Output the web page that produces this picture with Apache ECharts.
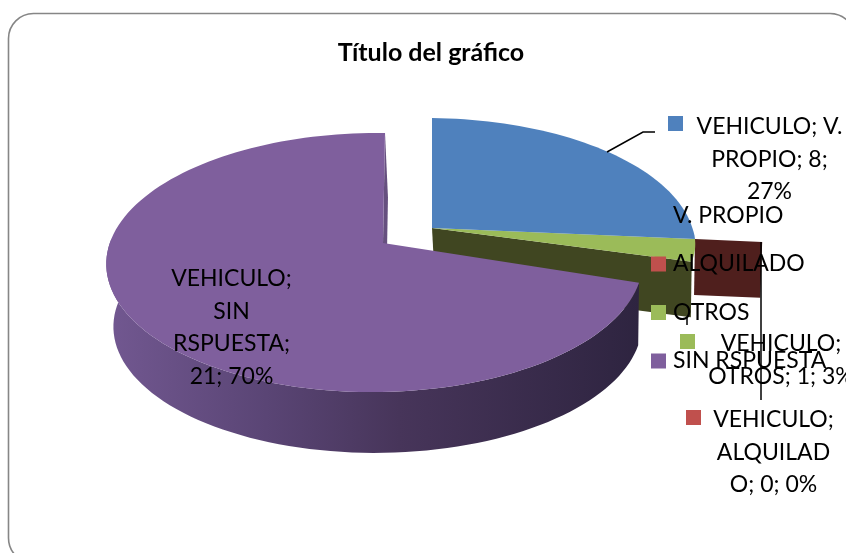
<!DOCTYPE html>
<html><head><meta charset="utf-8">
<style>html,body{margin:0;padding:0;background:#fff}#c{width:846px;height:553px}</style>
<script src="https://cdn.jsdelivr.net/npm/echarts@6/dist/echarts.min.js"></script>
</head><body><div id="c"></div>
<script>
const categories = ['V. PROPIO', 'ALQUILADO', 'OTROS', 'SIN RSPUESTA'];
const values = [8, 0, 1, 21];
const colors = ['#4f81bd', '#c0504d', '#9bbb59', '#7f5f9d'];
const darkColors = ['#2f4d71', '#4f1f1d', '#404621', '#66507f'];
const labelLines = [
  'VEHICULO; V.\nPROPIO; 8;\n27%',
  'VEHICULO;\nALQUILAD\nO; 0; 0%',
  'VEHICULO;\nOTROS; 1; 3%',
  'VEHICULO;\nSIN\nRSPUESTA;\n21; 70%'
];

// layout of the tilted disc
const FONT = 'Lato, Carlito, sans-serif';
const FS = 23, LH = 32.6;
const view = { A: 265, B: 126.6, k: 0.1506, m: 0.03, dx: 3, sb: 0.985 };
const apex = [[432, 228], [432, 228], [432, 228], [383, 243]];
const widen = [1.012, 1.012, 1.012, 1];
const shear = [0, 0, 0, 2];
const frontSquash = [0.85, 0.85, 0.85, 1];
const depth = [56, 56, 56, 63];
const labelLayout = [
  { x: 769.5, y: 126.5, key: [668, 116] },
  { x: 773.5, y: 419.5, key: [686, 410] },
  { x: 781, y: 343.5, key: [680, 334] },
  { x: 231.5, y: 278.5, key: [145, 267] }
];

const total = values.reduce((a, b) => a + b, 0);
let acc = 0;
const spans = values.map(v => { const s = acc; acc += v; return [s / total * 360, acc / total * 360]; });

function pt(i, deg, r, lower) {
  const t = deg * Math.PI / 180, u = r * Math.sin(t), v = -r * Math.cos(t);
  const w = 1 - view.k * v + view.m * u;
  const s = lower ? view.sb : 1;
  const yy = view.B * v / w * (v > 0 ? frontSquash[i] : 1);
  return [apex[i][0] + (lower ? view.dx : 0) + s * (widen[i] * view.A * u / w - shear[i] * v),
          apex[i][1] + (lower ? depth[i] : 0) + s * yy];
}
function arc(i, a, b, r, lower) {
  const out = [], n = Math.max(1, Math.ceil(Math.abs(b - a) / 2));
  for (let j = 0; j <= n; j++) out.push(pt(i, a + (b - a) * j / n, r, lower));
  return out;
}
function poly(points, fill, z2) {
  return { type: 'polygon', z2, shape: { points }, style: { fill } };
}
function sideGradient() {
  return new echarts.graphic.LinearGradient(0, 0, 1, 0, [
    { offset: 0, color: '#725891' },
    { offset: 0.3, color: '#5a4575' },
    { offset: 0.55, color: '#47355a' },
    { offset: 1, color: '#2e2440' }
  ]);
}
function sliceItem(i) {
  const [a, b] = spans[i], kids = [];
  const c = apex[i], cLow = [c[0] + view.dx, c[1] + depth[i]];
  if (i === 1) {
    // the empty slice only shows its cut face, pulled out past the rim
    kids.push(poly([pt(0, a, 1), pt(0, a, 1.26), pt(0, a, 1.26, true), pt(0, a, 1, true)], darkColors[1], 1));
  } else if (i === 0) {
    kids.push(poly([c].concat(arc(i, a, b, 1)), colors[0], 6));
  } else if (i === 2) {
    kids.push(poly([c, pt(i, b, 1), pt(i, b, 1, true), cLow], darkColors[2], 4));
    kids.push(poly([c].concat(arc(i, a, b, 1)), colors[2], 7));
  } else {
    kids.push(poly([c, pt(i, b, 1), pt(i, b, 1, true), cLow], darkColors[3], 8));
    const front = arc(i, a, 272, 1).concat(arc(i, 272, a, 1, true));
    kids.push({ type: 'polygon', z2: 9, shape: { points: front }, style: { fill: sideGradient() } });
    kids.push(poly([c].concat(arc(i, a, b, 1)), colors[3], 10));
  }
  const lay = labelLayout[i];
  kids.push({ type: 'rect', z2: 30, shape: { x: lay.key[0], y: lay.key[1], width: 15, height: 15 }, style: { fill: colors[i] } });
  kids.push({ type: 'text', z2: 31, style: {
    x: lay.x, y: lay.y, text: labelLines[i], font: FS + 'px ' + FONT, fill: '#000', align: 'center',
    verticalAlign: 'middle', lineHeight: LH
  }, y: (labelLines[i].split('\n').length - 1) * LH / 2 });
  return { type: 'group', children: kids };
}

const zOrder = [4, 1, 3, 5];
const chart = echarts.init(document.getElementById('c'), null, { renderer: 'canvas' });
chart.setOption({
  animation: false,
  backgroundColor: '#fff',
  title: { text: 'Título del gráfico', left: 426, top: 35, textAlign: 'center',
    textStyle: { fontFamily: FONT, fontSize: 25, fontWeight: 'bold', color: '#000' } },
  legend: {
    orient: 'vertical', left: 646, top: 199, z: 20, itemWidth: 15, itemHeight: 15, itemGap: 25.5,
    icon: 'rect', data: categories,
    textStyle: { fontFamily: FONT, fontSize: FS, color: '#000', padding: [0, 0, 0, 2] }
  },
  graphic: [
    { type: 'rect', z: -1, silent: true, shape: { x: 8.5, y: 13.5, width: 846.5, height: 549.5, r: 25 },
      style: { fill: '#fff', stroke: '#868686', lineWidth: 1.6 } },
    { type: 'polyline', z: 10, shape: { points: [[607, 152], [643, 132], [655, 132]] }, style: { stroke: '#000', lineWidth: 1.5, fill: null } },
    { type: 'polyline', z: 10, shape: { points: [[761, 242], [761, 400]] }, style: { stroke: '#000', lineWidth: 1.5, fill: null } },
    { type: 'polyline', z: 10, shape: { points: [[687, 317], [687, 325]] }, style: { stroke: '#000', lineWidth: 1.5, fill: null } }
  ],
  series: categories.map((name, i) => ({
    type: 'custom', name, coordinateSystem: 'none', z: zOrder[i], clip: false,
    itemStyle: { color: colors[i] }, data: [values[i]], renderItem: () => sliceItem(i)
  }))
});
</script></body></html>
